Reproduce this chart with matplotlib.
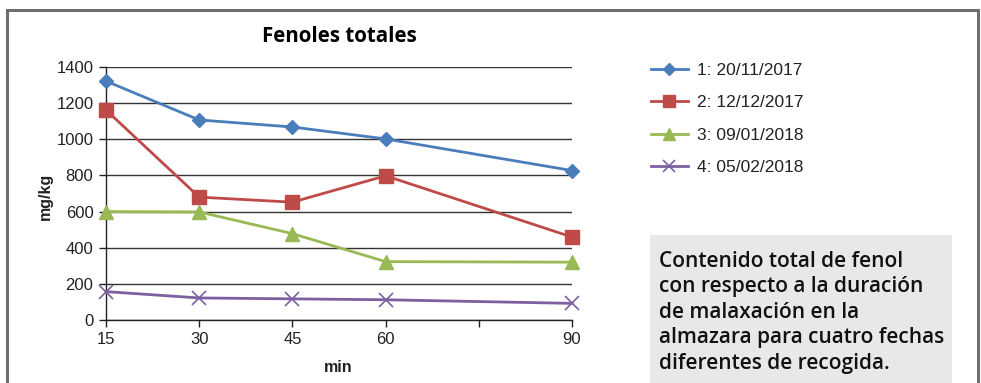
import matplotlib
matplotlib.use("Agg")
import matplotlib.pyplot as plt
from matplotlib.patches import Rectangle

# ---- data ----
minutes = [15, 30, 45, 60, 90]
tick_positions = [15, 30, 45, 60, 75, 90]
tick_labels = ['15', '30', '45', '60', '', '90']
y_ticks = [0, 200, 400, 600, 800, 1000, 1200, 1400]

s1_label = '1: 20/11/2017'
s1_values = [1322, 1107, 1068, 1002, 827]
s2_label = '2: 12/12/2017'
s2_values = [1162, 680, 652, 798, 459]
s3_label = '3: 09/01/2018'
s3_values = [600, 598, 478, 323, 320]
s4_label = '4: 05/02/2018'
s4_values = [157, 122, 117, 112, 92]

title = 'Fenoles totales'
xlabel = 'min'
ylabel = 'mg/kg'
note = ('Contenido total de fenol\ncon respecto a la duración\n'
        'de malaxación en la\nalmazara para cuatro fechas\ndiferentes de recogida.')

W, H = 981, 383
fig = plt.figure(figsize=(W / 100, H / 100), dpi=100)
fig.patch.set_facecolor('white')

# outer frame
fig.add_artist(Rectangle((7 / W, -0.1), (978 - 7) / W, (H - 10) / H + 0.1,
                         transform=fig.transFigure, fill=False,
                         edgecolor='#6e6e6e', linewidth=2.2))

ax = fig.add_axes([106 / W, (H - 320) / H, (572 - 106) / W, (320 - 67) / H])

series = [
    (s1_values, s1_label, '#4a7ebb', 'D', 7.5),
    (s2_values, s2_label, '#be4b48', 's', 9.5),
    (s3_values, s3_label, '#98b954', '^', 10),
    (s4_values, s4_label, '#7d60a0', 'x', 10),
]
handles = []
for vals, lab, col, mk, ms in series:
    h, = ax.plot(minutes, vals, color=col, linewidth=2, marker=mk,
                 markersize=ms, markeredgewidth=1.0 if mk != 'x' else 1.2,
                 markerfacecolor=col, markeredgecolor=col, label=lab,
                 clip_on=False, zorder=3)
    handles.append(h)

ax.set_xlim(15, 90)
ax.set_ylim(0, 1400)
ax.set_xticks(tick_positions)
ax.set_xticklabels(tick_labels)
ax.set_yticks(y_ticks)
ax.grid(axis='y', color='#333333', linewidth=1.0)
ax.set_axisbelow(True)
for sp in ['top', 'right']:
    ax.spines[sp].set_visible(False)
for sp in ['left', 'bottom']:
    ax.spines[sp].set_color('#222222')
    ax.spines[sp].set_linewidth(1.0)
ax.tick_params(axis='both', direction='out', length=5, width=1,
               color='#222222', labelsize=12, labelcolor='#222222', pad=4)
for lbl in ax.get_xticklabels() + ax.get_yticklabels():
    lbl.set_fontfamily('Liberation Sans')

fig.text(339 / W, 1 - 37 / H, title, ha='center', va='center',
         fontsize=14.8, fontweight='bold', family='Open Sans', color='black')
fig.text(338 / W, 1 - 367 / H, xlabel, ha='center', va='center',
         fontsize=11.5, fontweight='bold', family='Liberation Sans', color='#222222')
fig.text(45 / W, 1 - 196 / H, ylabel, ha='center', va='center', rotation=90,
         fontsize=11.5, fontweight='bold', family='Liberation Sans', color='#222222')

leg = fig.legend(handles=handles, loc='upper left',
                 bbox_to_anchor=(635 / W, 1 - 47 / H), frameon=False,
                 prop={'family': 'Liberation Sans', 'size': 12.5},
                 handlelength=2.15, handletextpad=0.52, labelspacing=1.0,
                 markerscale=0.85, labelcolor='#222222')

# note box
fig.add_artist(Rectangle((650 / W, 0), (952 - 650) / W, (H - 235) / H,
                         transform=fig.transFigure, facecolor='#e8e8ea',
                         edgecolor='none'))
fig.text(659 / W, 1 - 251 / H, note, ha='left', va='top', fontsize=15,
         fontweight='semibold', family='Open Sans', color='#111111',
         linespacing=1.28)

fig.savefig('out.png', dpi=100)
